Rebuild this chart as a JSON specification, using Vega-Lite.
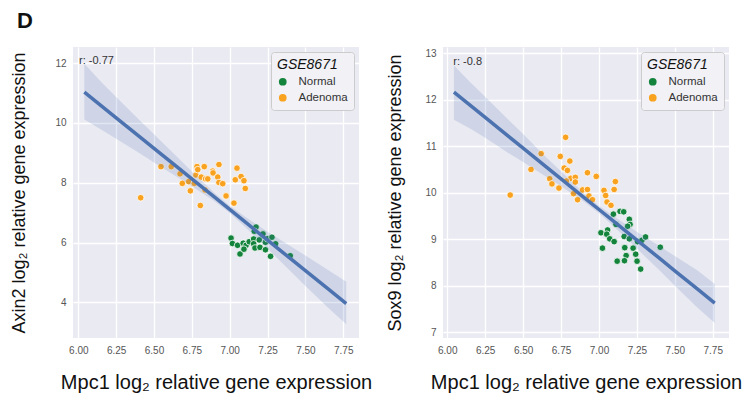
{
  "$schema": "https://vega.github.io/schema/vega-lite/v6.json",
  "padding": {"left": 10, "top": 10, "right": 5, "bottom": 5},
  "background": "white",
  "title": {"text": "D", "anchor": "start", "frame": "bounds", "fontSize": 22, "fontWeight": "bold", "font": "Liberation Sans", "color": "#111111", "offset": 14, "dx": 6},
  "config": {
    "font": "Liberation Sans",
    "view": {"fill": "#eaeaf2", "stroke": null},
    "axis": {"domain": false, "ticks": false, "grid": true, "gridColor": "white", "gridWidth": 1.3, "labelColor": "#555555", "labelFontSize": 10, "labelFont": "Liberation Sans", "titleFont": "Liberation Sans", "titleFontSize": 20, "titleFontWeight": "normal", "titleColor": "#111111", "labelPadding": 7},
    "axisY": {"titleFontSize": 18},
    "legend": {"orient": "top-right", "offset": 5, "fillColor": "#f1f1f6", "strokeColor": "#cccccc", "cornerRadius": 3, "padding": 6, "titleFontSize": 14, "titleFontStyle": "italic", "titleFontWeight": "normal", "titleColor": "#111111", "titleFont": "Liberation Sans", "labelFont": "Liberation Sans", "labelFontSize": 11.5, "labelColor": "#333333", "symbolType": "circle", "symbolSize": 60, "symbolStrokeWidth": 0, "rowPadding": 3, "labelOffset": 10, "titlePadding": 4}
  },
  "datasets": {
    "lp": [
      {"x": 6.412, "y": 7.50, "group": "Adenoma"},
      {"x": 6.546, "y": 8.54, "group": "Adenoma"},
      {"x": 6.614, "y": 8.54, "group": "Adenoma"},
      {"x": 6.672, "y": 8.30, "group": "Adenoma"},
      {"x": 6.687, "y": 7.98, "group": "Adenoma"},
      {"x": 6.729, "y": 8.04, "group": "Adenoma"},
      {"x": 6.740, "y": 7.73, "group": "Adenoma"},
      {"x": 6.766, "y": 7.98, "group": "Adenoma"},
      {"x": 6.777, "y": 8.26, "group": "Adenoma"},
      {"x": 6.784, "y": 8.54, "group": "Adenoma"},
      {"x": 6.789, "y": 8.44, "group": "Adenoma"},
      {"x": 6.812, "y": 8.19, "group": "Adenoma"},
      {"x": 6.832, "y": 8.54, "group": "Adenoma"},
      {"x": 6.841, "y": 8.13, "group": "Adenoma"},
      {"x": 6.855, "y": 8.13, "group": "Adenoma"},
      {"x": 6.806, "y": 7.24, "group": "Adenoma"},
      {"x": 6.837, "y": 7.76, "group": "Adenoma"},
      {"x": 6.888, "y": 8.39, "group": "Adenoma"},
      {"x": 6.890, "y": 8.33, "group": "Adenoma"},
      {"x": 6.929, "y": 8.61, "group": "Adenoma"},
      {"x": 6.921, "y": 8.19, "group": "Adenoma"},
      {"x": 6.929, "y": 8.01, "group": "Adenoma"},
      {"x": 6.954, "y": 7.97, "group": "Adenoma"},
      {"x": 6.976, "y": 7.56, "group": "Adenoma"},
      {"x": 7.048, "y": 8.49, "group": "Adenoma"},
      {"x": 7.037, "y": 8.10, "group": "Adenoma"},
      {"x": 7.075, "y": 8.21, "group": "Adenoma"},
      {"x": 7.094, "y": 8.07, "group": "Adenoma"},
      {"x": 7.103, "y": 7.81, "group": "Adenoma"},
      {"x": 7.028, "y": 7.32, "group": "Adenoma"},
      {"x": 7.009, "y": 6.15, "group": "Normal"},
      {"x": 7.018, "y": 5.97, "group": "Normal"},
      {"x": 7.052, "y": 5.91, "group": "Normal"},
      {"x": 7.068, "y": 5.62, "group": "Normal"},
      {"x": 7.089, "y": 5.98, "group": "Normal"},
      {"x": 7.108, "y": 5.91, "group": "Normal"},
      {"x": 7.094, "y": 5.78, "group": "Normal"},
      {"x": 7.129, "y": 6.03, "group": "Normal"},
      {"x": 7.158, "y": 6.12, "group": "Normal"},
      {"x": 7.158, "y": 5.96, "group": "Normal"},
      {"x": 7.167, "y": 5.82, "group": "Normal"},
      {"x": 7.174, "y": 6.52, "group": "Normal"},
      {"x": 7.162, "y": 6.38, "group": "Normal"},
      {"x": 7.195, "y": 6.09, "group": "Normal"},
      {"x": 7.200, "y": 5.84, "group": "Normal"},
      {"x": 7.220, "y": 6.29, "group": "Normal"},
      {"x": 7.236, "y": 6.01, "group": "Normal"},
      {"x": 7.236, "y": 5.76, "group": "Normal"},
      {"x": 7.250, "y": 6.13, "group": "Normal"},
      {"x": 7.279, "y": 6.18, "group": "Normal"},
      {"x": 7.303, "y": 5.96, "group": "Normal"},
      {"x": 7.270, "y": 5.54, "group": "Normal"},
      {"x": 7.400, "y": 5.56, "group": "Normal"}
    ],
    "rp": [
      {"x": 6.415, "y": 9.95, "group": "Adenoma"},
      {"x": 6.552, "y": 10.50, "group": "Adenoma"},
      {"x": 6.619, "y": 10.84, "group": "Adenoma"},
      {"x": 6.675, "y": 10.30, "group": "Adenoma"},
      {"x": 6.690, "y": 10.19, "group": "Adenoma"},
      {"x": 6.736, "y": 10.10, "group": "Adenoma"},
      {"x": 6.745, "y": 10.78, "group": "Adenoma"},
      {"x": 6.780, "y": 11.19, "group": "Adenoma"},
      {"x": 6.771, "y": 10.53, "group": "Adenoma"},
      {"x": 6.792, "y": 10.48, "group": "Adenoma"},
      {"x": 6.808, "y": 10.68, "group": "Adenoma"},
      {"x": 6.814, "y": 10.31, "group": "Adenoma"},
      {"x": 6.844, "y": 10.33, "group": "Adenoma"},
      {"x": 6.844, "y": 10.23, "group": "Adenoma"},
      {"x": 6.832, "y": 9.98, "group": "Adenoma"},
      {"x": 6.859, "y": 9.85, "group": "Adenoma"},
      {"x": 6.892, "y": 10.06, "group": "Adenoma"},
      {"x": 6.924, "y": 10.07, "group": "Adenoma"},
      {"x": 6.924, "y": 10.43, "group": "Adenoma"},
      {"x": 6.934, "y": 9.93, "group": "Adenoma"},
      {"x": 6.957, "y": 9.85, "group": "Adenoma"},
      {"x": 6.982, "y": 10.35, "group": "Adenoma"},
      {"x": 7.033, "y": 10.05, "group": "Adenoma"},
      {"x": 7.044, "y": 9.94, "group": "Adenoma"},
      {"x": 7.053, "y": 9.80, "group": "Adenoma"},
      {"x": 7.079, "y": 9.73, "group": "Adenoma"},
      {"x": 7.100, "y": 10.07, "group": "Adenoma"},
      {"x": 7.108, "y": 10.24, "group": "Adenoma"},
      {"x": 6.785, "y": 10.25, "group": "Adenoma"},
      {"x": 7.095, "y": 9.54, "group": "Normal"},
      {"x": 7.139, "y": 9.60, "group": "Normal"},
      {"x": 7.163, "y": 9.59, "group": "Normal"},
      {"x": 7.200, "y": 9.43, "group": "Normal"},
      {"x": 7.205, "y": 9.32, "group": "Normal"},
      {"x": 7.112, "y": 9.32, "group": "Normal"},
      {"x": 7.189, "y": 9.28, "group": "Normal"},
      {"x": 7.013, "y": 9.14, "group": "Normal"},
      {"x": 7.057, "y": 9.20, "group": "Normal"},
      {"x": 7.051, "y": 9.11, "group": "Normal"},
      {"x": 7.071, "y": 9.01, "group": "Normal"},
      {"x": 7.100, "y": 8.95, "group": "Normal"},
      {"x": 7.166, "y": 9.06, "group": "Normal"},
      {"x": 7.200, "y": 9.01, "group": "Normal"},
      {"x": 7.254, "y": 8.95, "group": "Normal"},
      {"x": 7.283, "y": 8.98, "group": "Normal"},
      {"x": 7.307, "y": 9.05, "group": "Normal"},
      {"x": 7.023, "y": 8.81, "group": "Normal"},
      {"x": 7.170, "y": 8.82, "group": "Normal"},
      {"x": 7.225, "y": 8.81, "group": "Normal"},
      {"x": 7.242, "y": 8.68, "group": "Normal"},
      {"x": 7.179, "y": 8.65, "group": "Normal"},
      {"x": 7.120, "y": 8.53, "group": "Normal"},
      {"x": 7.168, "y": 8.54, "group": "Normal"},
      {"x": 7.251, "y": 8.53, "group": "Normal"},
      {"x": 7.275, "y": 8.36, "group": "Normal"},
      {"x": 7.404, "y": 8.83, "group": "Normal"}
    ],
    "lf": [
      {"x": 6.04, "y": 11.03, "lo": 10.12, "hi": 11.98},
      {"x": 6.15, "y": 10.58, "lo": 9.78, "hi": 11.38},
      {"x": 6.25, "y": 10.17, "lo": 9.47, "hi": 10.87},
      {"x": 6.40, "y": 9.56, "lo": 9.00, "hi": 10.12},
      {"x": 6.50, "y": 9.15, "lo": 8.68, "hi": 9.62},
      {"x": 6.65, "y": 8.54, "lo": 8.20, "hi": 8.88},
      {"x": 6.75, "y": 8.13, "lo": 7.88, "hi": 8.38},
      {"x": 6.90, "y": 7.52, "lo": 7.38, "hi": 7.66},
      {"x": 7.00, "y": 7.11, "lo": 6.99, "hi": 7.23},
      {"x": 7.10, "y": 6.70, "lo": 6.53, "hi": 6.87},
      {"x": 7.25, "y": 6.08, "lo": 5.80, "hi": 6.36},
      {"x": 7.40, "y": 5.47, "lo": 5.05, "hi": 5.89},
      {"x": 7.50, "y": 5.06, "lo": 4.55, "hi": 5.57},
      {"x": 7.65, "y": 4.45, "lo": 3.82, "hi": 5.08},
      {"x": 7.77, "y": 3.96, "lo": 3.27, "hi": 4.69}
    ],
    "rf": [
      {"x": 6.044, "y": 12.16, "lo": 11.57, "hi": 12.73},
      {"x": 6.15, "y": 11.88, "lo": 11.38, "hi": 12.38},
      {"x": 6.25, "y": 11.62, "lo": 11.18, "hi": 12.06},
      {"x": 6.40, "y": 11.22, "lo": 10.86, "hi": 11.58},
      {"x": 6.50, "y": 10.96, "lo": 10.66, "hi": 11.26},
      {"x": 6.65, "y": 10.56, "lo": 10.35, "hi": 10.77},
      {"x": 6.75, "y": 10.30, "lo": 10.14, "hi": 10.46},
      {"x": 6.90, "y": 9.90, "lo": 9.81, "hi": 9.99},
      {"x": 7.00, "y": 9.64, "lo": 9.56, "hi": 9.72},
      {"x": 7.10, "y": 9.38, "lo": 9.27, "hi": 9.49},
      {"x": 7.25, "y": 8.98, "lo": 8.80, "hi": 9.16},
      {"x": 7.40, "y": 8.59, "lo": 8.33, "hi": 8.85},
      {"x": 7.50, "y": 8.32, "lo": 8.00, "hi": 8.64},
      {"x": 7.65, "y": 7.93, "lo": 7.53, "hi": 8.33},
      {"x": 7.763, "y": 7.63, "lo": 7.20, "hi": 8.04}
    ],
    "lt": [{"x": 6.005, "y": 12.07, "label": "r: -0.77"}],
    "rt": [{"x": 6.04, "y": 12.80, "label": "r: -0.8"}]
  },
  "resolve": {"legend": {"color": "independent"}},
  "bounds": "flush",
  "spacing": 84,
  "hconcat": [
    {
      "width": 286,
      "height": 291,
      "layer": [
        {
          "data": {"name": "lp"},
          "mark": {"type": "point", "filled": true, "size": 44, "stroke": "white", "strokeWidth": 0.8, "opacity": 1},
          "encoding": {
            "x": {"field": "x", "type": "quantitative", "title": "Mpc1 log₂ relative gene expression", "scale": {"domain": [5.965, 7.854], "nice": false, "zero": false}, "axis": {"values": [6, 6.25, 6.5, 6.75, 7, 7.25, 7.5, 7.75], "format": ".2f", "titlePadding": 17}},
            "y": {"field": "y", "type": "quantitative", "title": "Axin2 log₂ relative gene expression", "scale": {"domain": [2.81, 12.54], "nice": false, "zero": false}, "axis": {"values": [4, 6, 8, 10, 12], "format": "d", "titlePadding": 26}},
            "color": {"field": "group", "type": "nominal", "scale": {"domain": ["Normal", "Adenoma"], "range": ["#14843d", "#f8a21f"]}, "legend": {"title": "GSE8671"}}
          }
        },
        {
          "data": {"name": "lf"},
          "mark": {"type": "area", "color": "#4c72b0", "opacity": 0.17},
          "encoding": {
            "x": {"field": "x", "type": "quantitative", "title": "Mpc1 log₂ relative gene expression"},
            "y": {"field": "lo", "type": "quantitative", "title": "Axin2 log₂ relative gene expression"},
            "y2": {"field": "hi"}
          }
        },
        {
          "data": {"name": "lf"},
          "mark": {"type": "line", "color": "#4c72b0", "strokeWidth": 3.5},
          "encoding": {
            "x": {"field": "x", "type": "quantitative", "title": "Mpc1 log₂ relative gene expression"},
            "y": {"field": "y", "type": "quantitative", "title": "Axin2 log₂ relative gene expression"}
          }
        },
        {
          "data": {"name": "lt"},
          "mark": {"type": "text", "align": "left", "baseline": "middle", "fontSize": 11, "color": "#333333", "font": "Liberation Sans"},
          "encoding": {
            "x": {"field": "x", "type": "quantitative", "title": "Mpc1 log₂ relative gene expression"},
            "y": {"field": "y", "type": "quantitative", "title": "Axin2 log₂ relative gene expression"},
            "text": {"field": "label"}
          }
        }
      ]
    },
    {
      "width": 286,
      "height": 291,
      "layer": [
        {
          "data": {"name": "rp"},
          "mark": {"type": "point", "filled": true, "size": 44, "stroke": "white", "strokeWidth": 0.8, "opacity": 1},
          "encoding": {
            "x": {"field": "x", "type": "quantitative", "title": "Mpc1 log₂ relative gene expression", "scale": {"domain": [5.972, 7.857], "nice": false, "zero": false}, "axis": {"values": [6, 6.25, 6.5, 6.75, 7, 7.25, 7.5, 7.75], "format": ".2f", "titlePadding": 17}},
            "y": {"field": "y", "type": "quantitative", "title": "Sox9 log₂ relative gene expression", "scale": {"domain": [6.88, 13.13], "nice": false, "zero": false}, "axis": {"values": [7, 8, 9, 10, 11, 12, 13], "format": "d", "titlePadding": 20}},
            "color": {"field": "group", "type": "nominal", "scale": {"domain": ["Normal", "Adenoma"], "range": ["#14843d", "#f8a21f"]}, "legend": {"title": "GSE8671"}}
          }
        },
        {
          "data": {"name": "rf"},
          "mark": {"type": "area", "color": "#4c72b0", "opacity": 0.17},
          "encoding": {
            "x": {"field": "x", "type": "quantitative", "title": "Mpc1 log₂ relative gene expression"},
            "y": {"field": "lo", "type": "quantitative", "title": "Sox9 log₂ relative gene expression"},
            "y2": {"field": "hi"}
          }
        },
        {
          "data": {"name": "rf"},
          "mark": {"type": "line", "color": "#4c72b0", "strokeWidth": 3.5},
          "encoding": {
            "x": {"field": "x", "type": "quantitative", "title": "Mpc1 log₂ relative gene expression"},
            "y": {"field": "y", "type": "quantitative", "title": "Sox9 log₂ relative gene expression"}
          }
        },
        {
          "data": {"name": "rt"},
          "mark": {"type": "text", "align": "left", "baseline": "middle", "fontSize": 11, "color": "#333333", "font": "Liberation Sans"},
          "encoding": {
            "x": {"field": "x", "type": "quantitative", "title": "Mpc1 log₂ relative gene expression"},
            "y": {"field": "y", "type": "quantitative", "title": "Sox9 log₂ relative gene expression"},
            "text": {"field": "label"}
          }
        }
      ]
    }
  ]
}
